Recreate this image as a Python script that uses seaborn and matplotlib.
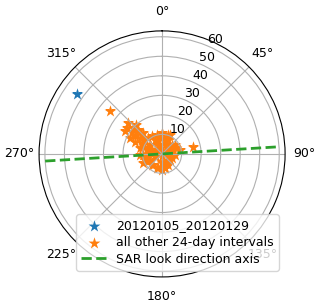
import numpy as np
import pandas as pd
import matplotlib
matplotlib.use("Agg")
import matplotlib.pyplot as plt
import seaborn as sns

# displacement direction (deg, clockwise from north) and magnitude
highlight_theta = [305.1]
highlight_r = [53.4]

other_theta = [309.6, 78.0, 312.6, 318.1, 301.5, 306.0, 315.7, 306.0, 310.1, 307.8,
               359.0, 18.1, 11.8, 337.0, 54.4, 76.6, 76.6, 284.7, 285.7, 319.0,
               48.0, 252.0, 188.0, 110.0, 241.9, 219.0, 182.0, 139.0, 168.0, 200.7,
               255.0, 268.0, 338.0, 46.0, 296.4, 303.0, 243.6,
               309.5, 306.9, 333.4, 347.5, 18.4, 63.4, 266.6, 243.4, 126.9, 167.9,
               196.0, 94.4, 285.3, 294.0,
               306.6, 311.9, 313.8, 296.6, 317.9, 318.8, 298.8, 330.9, 345.3, 0.0,
               23.2, 48.0, 66.8, 299.7, 315.0, 56.3, 274.8, 250.6, 222.3, 180.0,
               151.4, 180.0, 111.8, 267.4, 243.4, 293.2, 22.8]
other_r = [34.6, 16.4, 23.5, 20.2, 22.2, 19.2, 17.4, 13.9, 11.4, 7.8,
           10.8, 10.4, 7.5, 7.0, 8.2, 9.5, 5.9, 5.4, 8.1, 2.9,
           2.1, 3.8, 1.2, 3.4, 7.9, 7.1, 4.6, 4.9, 7.3, 7.7,
           8.1, 9.6, 5.1, 5.7, 10.7, 16.5, 10.7,
           11.3, 7.7, 8.0, 4.7, 4.9, 4.6, 8.7, 6.9, 5.1, 7.3,
           7.5, 6.7, 11.7, 15.1,
           22.3, 19.9, 17.0, 18.3, 14.5, 10.9, 11.7, 10.5, 10.1, 8.2,
           7.8, 6.9, 7.8, 4.1, 1.4, 1.8, 6.2, 9.2, 7.6, 4.1,
           6.4, 8.2, 5.5, 11.3, 3.4, 7.8, 10.6]

look_theta = [266.5, 86.5]
look_r = [60, 60]

labels = ["20120105_20120129", "all other 24-day intervals", "SAR look direction axis"]


def create_plot():
    plt.rcParams["font.size"] = 9
    fig = plt.figure(figsize=(3.2, 3.06), dpi=100)
    ax = fig.add_axes([0.122, 0.095, 0.769, 0.804], projection="polar")
    ax.set_theta_zero_location("N")
    ax.set_theta_direction(-1)

    sns.scatterplot(x=np.deg2rad(highlight_theta), y=highlight_r, marker="*", s=80,
                    color="C0", linewidth=0, label=labels[0], ax=ax)
    sns.scatterplot(x=np.deg2rad(other_theta), y=other_r, marker="*", s=80,
                    color="C1", linewidth=0, label=labels[1], ax=ax)
    sns.lineplot(x=np.deg2rad(look_theta), y=look_r, sort=False, estimator=None,
                 color="C2", linestyle="--", linewidth=2, label=labels[2], ax=ax)

    ax.set_ylim(0, 63)
    ax.set_yticks([10, 20, 30, 40, 50, 60])
    ax.set_xlabel("")
    ax.set_ylabel("")
    ax.legend(loc="lower right", labelspacing=0.3)
    fig.savefig("out.png", dpi=100)


if __name__ == "__main__":
    create_plot()
